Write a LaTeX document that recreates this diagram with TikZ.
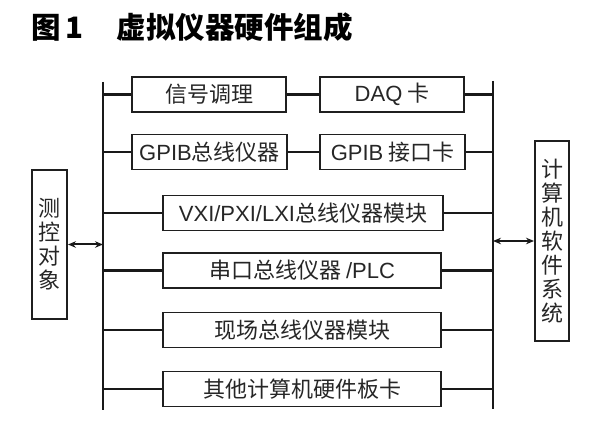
\documentclass[tikz,border=0pt]{standalone}
\usepackage{fontspec}
\newfontfamily\cjk{Noto Sans CJK SC}
\newfontfamily\lat{Liberation Sans}
\usetikzlibrary{arrows.meta}
\begin{document}
\begin{tikzpicture}[x=1pt,y=-1pt,
  box/.style={draw=black!88,line width=1.9pt,inner sep=0pt,minimum height=35pt,
    font=\cjk\fontsize{22}{24}\selectfont,text=black!85},
  vbox/.style={draw=black!88,line width=1.9pt,inner sep=0pt,align=center,
    font=\cjk\fontsize{22}{24}\selectfont,text=black!85},
  wire/.style={draw=black!90,line width=2.2pt},
  bus/.style={draw=black!90,line width=2.4pt},
  biarrow/.style={draw=black!90,line width=2pt,{Stealth[length=8pt,width=6.5pt]}-{Stealth[length=8pt,width=6.5pt]}}]
\useasboundingbox (0,0) rectangle (600,438);
\node[font=\cjk\bfseries\fontsize{29.5}{31}\selectfont,anchor=west,inner sep=0pt] (title) at (31,27) {图\,1\hspace{33pt}虚拟仪器硬件组成};
\coordinate (lt) at (103,82);
\coordinate (lb) at (103,410);
\coordinate (rt) at (493,81);
\coordinate (rb) at (493,409);
\draw[bus] (lt) -- (lb);
\draw[bus] (rt) -- (rb);
\node[box,minimum width=154pt] (b1) at (209,94.5) {信号调理};
\node[box,minimum width=144pt] (d1) at (392,94.5) {{\lat DAQ} 卡};
\node[box,minimum width=155pt] (b2) at (209.5,152) {{\lat GPIB}总线仪器};
\node[box,minimum width=145pt] (d2) at (392.5,152) {{\lat GPIB} 接口卡};
\node[box,minimum width=280pt] (r3) at (303,213) {{\lat VXI/PXI/LXI}总线仪器模块};
\node[box,minimum width=278pt] (r4) at (302,270.5) {串口总线仪器 {\lat /PLC}};
\node[box,minimum width=278pt] (r5) at (302,330) {现场总线仪器模块};
\node[box,minimum width=278pt] (r6) at (302,389) {其他计算机硬件板卡};
\node[vbox,minimum width=35pt,minimum height=149pt] (L) at (49.5,244.5) {测\\控\\对\\象};
\node[vbox,minimum width=34pt,minimum height=200pt] (R) at (552,241) {计\\算\\机\\软\\件\\系\\统};
\draw[wire] (b1.west) -- (b1.west -| lt);
\draw[wire] (b1.east) -- (d1.west);
\draw[wire] (d1.east) -- (d1.east -| rt);
\draw[wire] (b2.west) -- (b2.west -| lt);
\draw[wire] (b2.east) -- (d2.west);
\draw[wire] (d2.east) -- (d2.east -| rt);
\foreach \n in {r3,r4,r5,r6}{
  \draw[wire] (\n.west) -- (\n.west -| lt);
  \draw[wire] (\n.east) -- (\n.east -| rt);
}
\draw[biarrow] (L.east) -- (L.east -| lt);
\draw[biarrow] (R.west) -- (R.west -| rt);
\end{tikzpicture}
\end{document}
